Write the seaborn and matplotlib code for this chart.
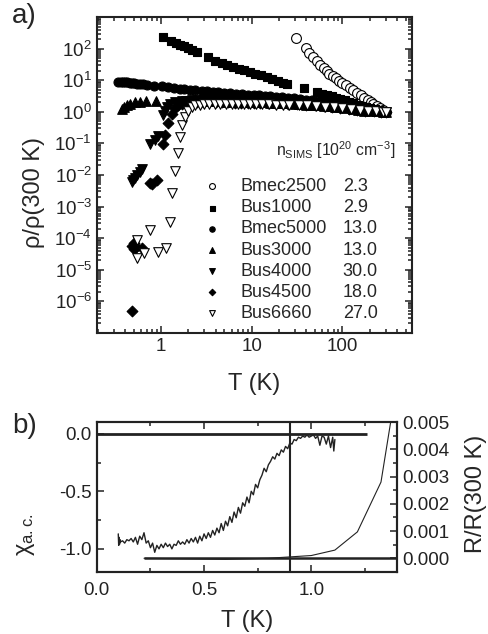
import numpy as np
import pandas as pd
import matplotlib
matplotlib.use('Agg')
import matplotlib.pyplot as plt
import seaborn as sns
from matplotlib.ticker import LogLocator, LogFormatterSciNotation, MultipleLocator, NullFormatter

sns.set_style('ticks')
plt.rcParams['font.family'] = ['Liberation Sans', 'DejaVu Sans']
plt.rcParams['mathtext.fontset'] = 'custom'
plt.rcParams['mathtext.rm'] = 'Liberation Sans'
plt.rcParams['mathtext.it'] = 'Liberation Sans:italic'
plt.rcParams['mathtext.bf'] = 'Liberation Sans:bold'
plt.rcParams['axes.unicode_minus'] = False

# ---- panel a) data: rho/rho(300 K) vs T ----
samples = ['Bmec2500', 'Bus1000', 'Bmec5000', 'Bus3000', 'Bus4000', 'Bus4500', 'Bus6660']
n_sims = ['2.3', '2.9', '13.0', '13.0', '30.0', '18.0', '27.0']

T_bmec2500 = [31, 40, 43, 48, 52.5, 57, 62, 67, 72, 78, 85, 92, 100, 110, 120, 132, 145, 160,
              175, 190, 205, 220, 240, 260, 280, 300]
r_bmec2500 = [215, 105, 75, 55, 40, 30, 24, 19.5, 16, 13.5, 11.5, 9.8, 8.4, 7.0, 5.8, 4.8, 4.0, 3.3,
              2.8, 2.35, 2.0, 1.75, 1.5, 1.3, 1.15, 1.0]

T_bus1000 = [1.04, 1.29, 1.46, 1.62, 1.8, 2.0, 2.18, 2.48, 3.3, 3.95, 4.7, 5.4, 6.2, 7.2, 8.3, 9.5,
             11, 12.7, 14.6, 16.8, 19.4, 22.3, 24.5,
             37.5, 52.5, 60, 68, 76, 85, 95, 106, 118, 132, 147, 164, 183, 204, 228, 254, 283, 300]
r_bus1000 = [228, 177, 148, 130, 118, 103, 92, 76, 55, 41, 34, 30, 27, 23.5, 20.5, 18.5,
             16, 14.2, 12.5, 11.2, 9.5, 8.3, 7.6,
             5.5, 4.2, 3.8, 3.4, 3.1, 2.8, 2.55, 2.3, 2.1, 1.9, 1.7, 1.55, 1.42, 1.3, 1.2, 1.12, 1.05, 1.0]

T_bmec5000 = [0.338, 0.36, 0.38, 0.40, 0.42, 0.45, 0.48, 0.51, 0.55, 0.59, 0.64, 0.695, 0.84, 1.02,
              1.2, 1.4, 1.6, 1.8, 2.1, 2.4, 2.8, 3.2, 3.7, 4.3, 5, 5.8, 6.7, 7.8, 9, 10.5, 12, 14, 16,
              18.5, 21.5, 25, 29, 34, 40, 46, 54, 63, 73, 85, 100, 115, 135, 155, 180, 210, 245, 280, 300]
r_bmec5000 = [9.0, 8.9, 8.8, 8.7, 8.6, 8.4, 8.2, 8.0, 7.8, 7.6, 7.4, 7.3, 6.8, 6.4,
              6.0, 5.6, 5.3, 5.1, 4.9, 4.75, 4.6, 4.45, 4.3, 4.15, 4.0, 3.9, 3.75, 3.65, 3.5, 3.4, 3.3, 3.2, 3.1,
              3.0, 2.9, 2.8, 2.7, 2.55, 2.4, 2.3, 2.15, 2.0, 1.9, 1.75, 1.65, 1.55, 1.45, 1.35, 1.25, 1.17, 1.1, 1.04, 1.0]

T_bus3000 = [0.37, 0.39, 0.42, 0.45, 0.52, 0.59, 0.68, 0.88, 1.9, 2.1, 2.4, 2.8, 3.2, 3.7, 4.3, 5,
             5.8, 6.7, 7.8, 9, 10.5, 12, 14, 16, 18.5, 21.5, 25, 30, 33, 36, 40, 45, 50, 56, 63, 72,
             82, 95, 110, 130, 150, 175, 205, 240, 280, 300]
r_bus3000 = [1.24, 1.4, 1.6, 1.8, 2.0, 2.1, 2.15, 2.2, 2.2, 2.2, 2.2, 2.2, 2.2, 2.15, 2.15, 2.1,
             2.1, 2.1, 2.05, 2.05, 2.0, 2.0, 2.0, 1.95, 1.95, 1.9, 1.9, 1.75, 1.75, 1.75, 1.7, 1.7, 1.65, 1.6, 1.55, 1.5,
             1.45, 1.38, 1.3, 1.22, 1.16, 1.1, 1.06, 1.03, 1.0, 1.0]

T_bus4000 = [0.475, 0.49, 0.516, 0.55, 0.58, 0.61, 0.756, 0.86, 0.92, 1.06, 1.1, 1.16, 1.26, 1.43,
             1.69, 1.9, 2.2, 2.5, 2.9, 3.3, 3.8, 4.4, 5, 5.8, 6.7, 7.8, 9, 10.5, 12, 14, 16, 18.5,
             21.5, 25, 30, 35, 40, 46, 54, 63, 73, 85, 100, 115, 135, 155, 180, 210, 245, 280, 300]
r_bus4000 = [0.006, 0.0068, 0.0081, 0.0097, 0.012, 0.015, 0.098, 0.13, 0.17, 0.8, 1.1, 1.4, 1.8, 2.0,
             2.2, 2.25, 2.3, 2.3, 2.3, 2.3, 2.3, 2.3, 2.3, 2.25, 2.25, 2.25, 2.2, 2.2, 2.2, 2.15, 2.15, 2.1,
             2.1, 2.05, 2.0, 1.95, 1.9, 1.85, 1.8, 1.7, 1.6, 1.5, 1.42, 1.35, 1.27, 1.2, 1.15, 1.1, 1.05, 1.02, 1.0]

T_bus4500 = [0.48, 0.475, 0.50, 0.51, 0.53, 0.61, 0.756, 0.8, 0.9, 1.06, 1.1, 1.2, 1.31, 1.43, 1.55,
             1.7, 1.9, 2.2, 2.5, 2.9, 3.4, 4, 4.7, 5.5, 6.5, 7.6, 9, 10.5, 12.5, 15, 18, 21.5, 25,
             32, 40, 50, 62, 77, 95, 118, 145, 180, 225, 270, 300]
r_bus4500 = [4.8e-7, 5.8e-5, 4.5e-5, 6.8e-5, 5.4e-5, 4.7e-5, 0.0054, 0.005, 0.0068, 0.098, 0.18, 0.45,
             0.86, 1.3, 1.6, 1.8, 1.9, 2.0, 2.0, 2.0, 2.0, 2.0, 2.0, 2.0, 1.95, 1.95, 1.95, 1.9, 1.9, 1.9,
             1.85, 1.85, 1.8, 1.75, 1.7, 1.6, 1.5, 1.42, 1.33, 1.25, 1.18, 1.1, 1.05, 1.02, 1.0]

T_bus6660 = [0.55, 0.55, 0.655, 0.756, 0.92, 1.13, 1.26, 1.33, 1.43, 1.53, 1.62, 1.72, 1.84, 2.0,
             2.18, 2.4, 2.7, 3.0, 3.4, 3.9, 4.5, 5.2, 6, 7, 8.2, 9.6, 11.2, 13, 15.5, 18.5, 22, 26,
             33, 41, 51, 64, 80, 100, 125, 155, 190, 235, 280, 300]
r_bus6660 = [8.6e-5, 2.3e-5, 3.3e-5, 1.8e-4, 3.7e-5, 4.7e-5, 3.2e-4, 0.0026, 0.013, 0.051, 0.16, 0.37,
             0.68, 1.1, 1.4, 1.6, 1.7, 1.75, 1.8, 1.8, 1.8, 1.8, 1.8, 1.8, 1.8, 1.8, 1.75, 1.75, 1.75, 1.7,
             1.7, 1.7, 1.65, 1.6, 1.55, 1.45, 1.38, 1.3, 1.22, 1.15, 1.1, 1.05, 1.02, 1.0]

# ---- panel b) data ----
T_chi = [0.100, 0.102, 0.104, 0.106, 0.108, 0.11, 0.12, 0.13, 0.14, 0.15, 0.16, 0.17, 0.18, 0.19,
         0.20, 0.21, 0.22, 0.23, 0.24, 0.25, 0.26, 0.27, 0.28, 0.29, 0.30, 0.31, 0.32, 0.33, 0.34,
         0.35, 0.36, 0.37, 0.38, 0.39, 0.40, 0.41, 0.42, 0.43, 0.44, 0.45, 0.46, 0.47, 0.48, 0.49,
         0.50, 0.51, 0.52, 0.53, 0.54, 0.55, 0.56, 0.57, 0.58, 0.59, 0.60, 0.61, 0.62, 0.63, 0.64,
         0.65, 0.66, 0.67, 0.68, 0.69, 0.70, 0.71, 0.72, 0.73, 0.74, 0.75, 0.76, 0.77, 0.78, 0.79,
         0.80, 0.81, 0.82, 0.83, 0.84, 0.85, 0.86, 0.87, 0.88, 0.89, 0.90, 0.91, 0.92, 0.93, 0.94,
         0.95, 0.96, 0.97, 0.98, 0.99, 1.00, 1.01, 1.02, 1.03, 1.04, 1.05, 1.06, 1.07, 1.08, 1.09,
         1.10, 1.105, 1.11]
chi = [-0.87, -0.97, -0.90, -0.96, -0.92, -0.94, -0.93, -0.95, -0.92, -0.93, -0.91, -0.94, -0.90, -0.96,
       -0.89, -0.92, -0.86, -0.95, -0.93, -0.99, -0.95, -1.03, -0.97, -1.00, -0.96, -0.99, -0.95, -0.98, -0.96,
       -1.00, -0.96, -0.97, -0.93, -0.96, -0.94, -0.96, -0.92, -0.95, -0.91, -0.94, -0.90, -0.95, -0.89, -0.93,
       -0.87, -0.91, -0.86, -0.90, -0.84, -0.88, -0.82, -0.86, -0.78, -0.84, -0.76, -0.80, -0.72, -0.77, -0.68,
       -0.73, -0.64, -0.69, -0.60, -0.63, -0.55, -0.60, -0.50, -0.53, -0.44, -0.47, -0.40, -0.36, -0.30, -0.33,
       -0.27, -0.24, -0.20, -0.22, -0.17, -0.19, -0.14, -0.16, -0.11, -0.13, -0.08, -0.09, -0.05, -0.06, -0.03,
       -0.04, -0.02, -0.03, -0.01, -0.03, -0.02, -0.01, -0.04, -0.02, -0.10, -0.02, -0.03, -0.09, -0.02, -0.12,
       -0.03, -0.15, -0.05]

T_res = [0.22, 0.40, 0.60, 0.80, 0.90, 1.00, 1.11, 1.215, 1.325, 1.37]
R_res = [0.0, -0.00002, -0.00004, 0.0, 0.00005, 0.0001, 0.0003, 0.00097, 0.0028, 0.005]

series = [
    (T_bmec2500, r_bmec2500, 'o', 50, 'white'),
    (T_bus1000, r_bus1000, 's', 36, 'black'),
    (T_bmec5000, r_bmec5000, 'o', 42, 'black'),
    (T_bus3000, r_bus3000, '^', 48, 'black'),
    (T_bus4000, r_bus4000, 'v', 48, 'black'),
    (T_bus4500, r_bus4500, 'D', 30, 'black'),
    (T_bus6660, r_bus6660, 'v', 48, 'white'),
]

fig = plt.figure(figsize=(4.89, 6.34), dpi=100)
ax = fig.add_axes([0.198, 0.475, 0.645, 0.498])

for name, (T, r, mk, sz, fc) in zip(samples, series):
    df = pd.DataFrame({'T': T, 'rho': r})
    sns.scatterplot(data=df, x='T', y='rho', marker=mk, s=sz, color='black', facecolor=fc,
                    edgecolor='black', linewidth=0.8, label=name, ax=ax, zorder=3)

ax.set_xscale('log')
ax.set_yscale('log')
ax.set_xlim(0.196, 590)
ax.set_ylim(1e-7, 1e3)
ax.yaxis.set_major_locator(LogLocator(base=10, numticks=20))
ax.yaxis.set_minor_locator(LogLocator(base=10, subs=np.arange(2, 10), numticks=20))
ax.yaxis.set_minor_formatter(NullFormatter())
ax.xaxis.set_minor_formatter(NullFormatter())
ax.set_yticks([1e-6, 1e-5, 1e-4, 1e-3, 1e-2, 1e-1, 1, 10, 100])
ax.yaxis.set_major_formatter(LogFormatterSciNotation())
ax.xaxis.set_major_formatter(plt.FuncFormatter(lambda v, p: f'{v:g}'))
ax.set_xlabel('T (K)', fontsize=17, labelpad=13)
ax.set_ylabel('ρ/ρ(300 K)', fontsize=17)
ax.yaxis.set_label_coords(-0.165, 0.446)

leg = ax.legend(loc='upper left', bbox_to_anchor=(0.335, 0.49), frameon=False, fontsize=13,
                markerscale=0.6, handlelength=1.0, handletextpad=1.08, labelspacing=0.23,
                borderpad=0, borderaxespad=0)
ax.text(0.567, 0.579, r'n$_\mathregular{SIMS}$ [10$^\mathregular{20}$ cm$^\mathregular{-3}$]',
        transform=ax.transAxes, fontsize=11.3, va='center', ha='left')

# panel b
axb = fig.add_axes([0.198, 0.098, 0.614, 0.236])
sns.lineplot(x=T_chi, y=chi, color='#222222', lw=1.0, estimator=None, ax=axb)
axb.hlines(0.0, 0.0, 1.26, color='#222222', lw=2.0)
axb.axvline(0.9, color='#222222', lw=1.5)
axb.set_xlim(0, 1.4)
axb.set_ylim(-1.2, 0.1)
axb.xaxis.set_major_locator(MultipleLocator(0.5))
axb.xaxis.set_minor_locator(MultipleLocator(0.25))
axb.yaxis.set_major_locator(MultipleLocator(0.5))
axb.yaxis.set_minor_locator(MultipleLocator(0.25))
axb.xaxis.set_major_formatter(plt.FuncFormatter(lambda v, p: f'{v:.1f}'))
axb.yaxis.set_major_formatter(plt.FuncFormatter(lambda v, p: f'{v:.1f}'))
axb.set_xlabel('T (K)', fontsize=17, labelpad=8)
axb.set_ylabel(r'χ$_\mathregular{a.c.}$', fontsize=17)
axb.yaxis.set_label_coords(-0.2, 0.25)

ax2 = axb.twinx()
sns.lineplot(x=T_res, y=R_res, color='#222222', lw=0.8, estimator=None, ax=ax2)
ax2.hlines(0.0, 0.22, 1.4, color='#222222', lw=1.8)
ax2.set_ylim(-0.0005, 0.005)
ax2.yaxis.set_major_locator(MultipleLocator(0.001))
ax2.yaxis.set_minor_locator(MultipleLocator(0.0005))
ax2.yaxis.set_major_formatter(plt.FuncFormatter(lambda v, p: f'{v:.3f}'))
ax2.set_ylabel('R/R(300 K)', fontsize=17)
ax2.yaxis.set_label_coords(1.225, 0.52)

for a in (ax, axb, ax2):
    for sp in a.spines.values():
        sp.set_linewidth(1.5)
        sp.set_color('#222222')
    a.tick_params(which='both', direction='in', labelsize=13.5, width=1.1, colors='#222222')
    a.tick_params(which='major', length=5)
    a.tick_params(which='minor', length=3)
ax.tick_params(which='both', top=True, right=True)
axb.tick_params(which='both', top=True)
axb.tick_params(axis='x', pad=7)

fig.text(0.025, 0.975, 'a)', fontsize=20, va='center', ha='left')
fig.text(0.025, 0.328, 'b)', fontsize=20, va='center', ha='left')

fig.canvas.draw()
inv = ax.transAxes.inverted()
for t, val in zip(leg.get_texts(), n_sims):
    bb = t.get_window_extent()
    yc = inv.transform((0, (bb.y0 + bb.y1) / 2))[1]
    ax.text(0.78, yc, val, transform=ax.transAxes, fontsize=13, va='center', ha='left')

fig.savefig('out.png', dpi=100)
